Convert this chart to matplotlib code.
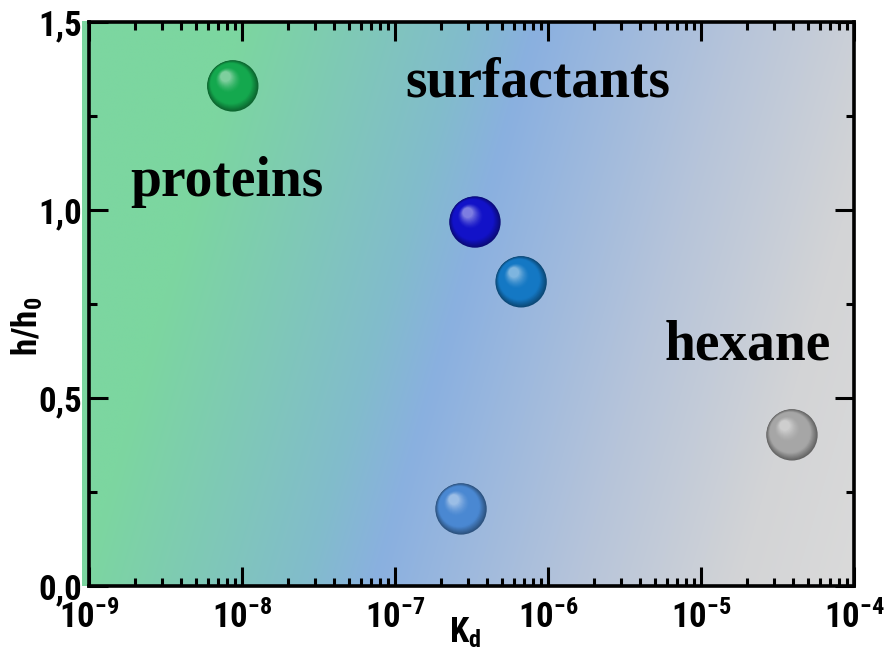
import numpy as np
import matplotlib
matplotlib.use('Agg')
import matplotlib.pyplot as plt
from matplotlib.colors import to_rgb
from matplotlib.transforms import ScaledTranslation

# data
kd_values = [8.7e-9, 3.33e-7, 6.67e-7, 2.7e-7, 3.93e-5]
h_ratio = [1.33, 0.968, 0.809, 0.205, 0.402]
ball_colors = ['#14a84e', '#1212c8', '#1478c4', '#4a88d2', '#a6a6a6']

x_ticks = [1e-9, 1e-8, 1e-7, 1e-6, 1e-5, 1e-4]
x_tick_labels = [r'$\mathregular{10^{-%d}}$' % n for n in range(9, 3, -1)]
y_ticks = [0.0, 0.5, 1.0, 1.5]
y_tick_labels = ['0,0', '0,5', '1,0', '1,5']

region_names = ['proteins', 'surfactants', 'hexane']

narrow = ['Roboto Condensed', 'Liberation Sans Narrow', 'DejaVu Sans']
serif = ['Liberation Serif', 'DejaVu Serif']

fig = plt.figure(figsize=(8.85, 6.56), dpi=100)
ax = fig.add_axes([0.1006, 0.1067, 0.8644, 0.8598])

# background gradient, slightly tilted: green -> teal -> blue -> grey
W, H = 400, 200
u = np.linspace(0, 1, W)
v = np.linspace(0, 1, H)
uu, vv = np.meshgrid(u, v)
s = uu - 0.21 * vv
stops = [-0.25, 0.0, 0.29, 0.38, 0.64, 0.85, 1.0]
stop_cols = np.array([to_rgb(c) for c in
                      ['#7cd6a0', '#7cd6a0', '#82bccc', '#8ab0e0', '#b6c4da', '#d3d4d6', '#dadada']])
img = np.dstack([np.interp(s, stops, stop_cols[:, k]) for k in range(3)])
ax.imshow(img, extent=(-0.009, 1, 0, 1), transform=ax.transAxes, origin='lower',
          aspect='auto', zorder=0, clip_on=False, interpolation='bilinear')

ax.set_xscale('log')
ax.set_xlim(1e-9, 1e-4)
ax.set_ylim(0, 1.5)


def draw_ball(x, y, color, diam=37.0):
    base = np.array(to_rgb(color))
    dark = base * 0.6
    light = base + (1 - base) * 0.45
    n = 30
    for i in range(n):
        f = i / (n - 1)
        d = diam * (1 - 0.8 * f)
        dx = -0.14 * diam * f
        dy = 0.18 * diam * f
        if f < 0.25:
            c = dark + (base - dark) * (f / 0.25)
        elif f < 0.6:
            c = base
        else:
            c = base + (light - base) * ((f - 0.6) / 0.4) ** 1.5
        tr = ax.transData + ScaledTranslation(dx / 72, dy / 72, fig.dpi_scale_trans)
        ax.scatter([x], [y], s=d ** 2, color=np.clip(c, 0, 1), transform=tr,
                   edgecolors='none', zorder=3 + i * 0.01, clip_on=False)


for xv, yv, col in zip(kd_values, h_ratio, ball_colors):
    draw_ball(xv, yv, col)

# region labels
ax.text(0.054, 0.691, region_names[0], transform=ax.transAxes, family=serif,
        fontweight='bold', fontsize=40, ha='left', va='baseline', zorder=5)
ax.text(0.587, 0.867, region_names[1], transform=ax.transAxes, family=serif,
        fontweight='bold', fontsize=40, ha='center', va='baseline', zorder=5)
ax.text(0.753, 0.402, region_names[2], transform=ax.transAxes, family=serif,
        fontweight='bold', fontsize=40, ha='left', va='baseline', zorder=5)

# axes styling
for sp in ax.spines.values():
    sp.set_linewidth(2.6)
    sp.set_zorder(6)
ax.set_xticks(x_ticks)
ax.set_xticklabels(x_tick_labels)
ax.set_yticks(y_ticks)
ax.set_yticklabels(y_tick_labels)
ax.set_yticks([0.25, 0.75, 1.25], minor=True)
ax.tick_params(which='both', direction='in', top=True, right=True, width=2.2)
ax.tick_params(which='major', length=14)
ax.tick_params(which='minor', length=6)
ax.tick_params(axis='x', which='major', pad=10)
ax.tick_params(axis='y', which='major', pad=5)
for lab in ax.get_xticklabels() + ax.get_yticklabels():
    lab.set_family(narrow)
    lab.set_fontstretch('condensed')
    lab.set_fontweight('bold')
    lab.set_fontsize(25)

fig.text(465 / 885, 1 - 633 / 656, r'$\mathregular{K_d}$', family=narrow, fontstretch='condensed',
         fontweight='bold', fontsize=25, ha='center', va='center')
fig.text(27 / 885, 1 - 326 / 656, r'$\mathregular{h/h_0}$', family=narrow, fontstretch='condensed',
         fontweight='bold', fontsize=25, ha='center', va='center', rotation=90)

fig.savefig('out.png', dpi=100)
